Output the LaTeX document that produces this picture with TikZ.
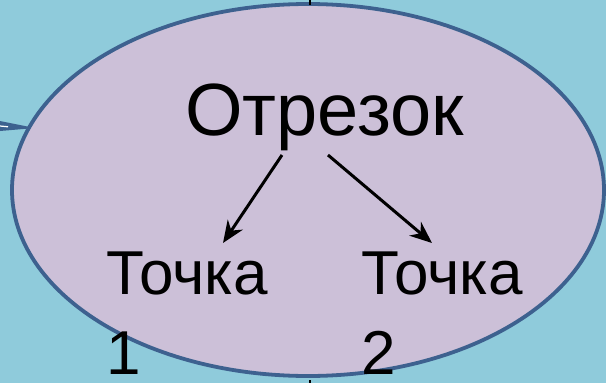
\documentclass[tikz,border=0pt]{standalone}
\usepackage{fontspec}
\setmainfont{Liberation Sans}
\usetikzlibrary{arrows.meta,calc}
\definecolor{bgblue}{RGB}{143,203,219}
\definecolor{ovalfill}{RGB}{204,192,216}
\definecolor{ovalline}{RGB}{61,97,143}
\tikzset{
  oval/.style={draw=ovalline, fill=ovalfill, line width=3.8pt},
  titletext/.style={inner sep=0pt, font=\fontsize{74}{88}\selectfont},
  pointtext/.style={inner sep=0pt, align=left, font=\fontsize{62}{80}\selectfont},
  link/.style={line width=3pt, -{Stealth[length=22pt,width=18pt,inset=7pt]}}
}
\begin{document}
\begin{tikzpicture}[x=1pt,y=-1pt]
  % canvas
  \fill[bgblue] (0,0) rectangle (606,383);
  \useasboundingbox (0,0) rectangle (606,383);
  % stub of the incoming connector on the left
  \fill[ovalline] (0,121) -- (35,128) -- (0,131) -- cycle;
  \draw[white, line width=1.2pt] (0,126) -- (8,126.8);
  % main oval
  \draw[oval] (308,190) ellipse [x radius=296, y radius=186];
  \coordinate (topstub) at (310,0);
  \coordinate (botstub) at (310,383);
  \draw[black, line width=2pt] (topstub) -- ++(0,5);
  \draw[black, line width=2.5pt] (botstub) -- ++(0,-3);
  % labels
  \node[titletext, anchor=base west] (title) at (185,135) {Отрезок};
  \node[pointtext, anchor=north west] (p1) at (106,252) {Точка\\1};
  \node[pointtext, anchor=north west] (p2) at (361,252) {Точка\\2};
  % arrows
  \draw[link] ($(title.base west)+(97,20)$) -- ($(p1.north west)+(117,-9)$);
  \draw[link] ($(title.base west)+(143,20)$) -- ($(p2.north west)+(71,-9)$);
\end{tikzpicture}
\end{document}
